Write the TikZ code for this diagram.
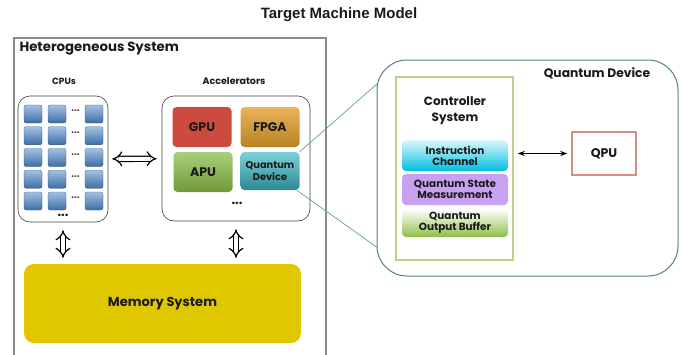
\documentclass[tikz,border=0pt]{standalone}
\usepackage{fontspec}
\setmainfont{Poppins}
\newfontfamily\titlefont{Liberation Sans}
\usetikzlibrary{arrows.meta}

\definecolor{txt}{HTML}{1A1A1A}
\definecolor{frame}{HTML}{8A8A8A}
\definecolor{gpured}{HTML}{CC4B3E}
\definecolor{fpgatop}{HTML}{EBB35A}
\definecolor{fpgabot}{HTML}{B98224}
\definecolor{aputop}{HTML}{A9CF79}
\definecolor{apubot}{HTML}{6E9A3A}
\definecolor{qdtop}{HTML}{7ED0D8}
\definecolor{qdbot}{HTML}{2B8A95}
\definecolor{coretop}{HTML}{A3C1E3}
\definecolor{corebot}{HTML}{3D6DA6}
\definecolor{memyellow}{HTML}{E0C800}
\definecolor{panelline}{HTML}{4F8283}
\definecolor{zoomline}{HTML}{5E9FA3}
\definecolor{ctrlgreen}{HTML}{B9D38F}
\definecolor{instop}{HTML}{DDF8FD}
\definecolor{insbot}{HTML}{00BEDF}
\definecolor{qsmpurple}{HTML}{C9A1F2}
\definecolor{qobbot}{HTML}{8DBF45}
\definecolor{qpuline}{HTML}{D88C86}

\begin{document}
\begin{tikzpicture}[x=1pt, y=-1pt,
  every node/.style={text=txt, font=\bfseries},
  group/.style={draw=black!75, line width=0.6pt, rounded corners=12pt},
  core/.style={minimum size=18pt, inner sep=0pt, rounded corners=2pt,
    draw=corebot!80!black, line width=0.3pt, top color=coretop, bottom color=corebot},
  tile/.style={minimum width=59pt, minimum height=40pt, inner sep=0pt, rounded corners=4pt},
  ctrlitem/.style={minimum width=106pt, minimum height=31pt, inner sep=0pt, rounded corners=4pt,
    align=center, font=\bfseries\fontsize{10.4}{11}\selectfont},
  wide/.style={double, double distance=4pt, line width=1.2pt, {Implies}-{Implies}},
  dots/.style={font=\bfseries\fontsize{10}{10}\selectfont, inner sep=0pt}]

  \useasboundingbox (0,0) rectangle (681,354);
  \clip (0,0) rectangle (681,354);

  % title
  \node (title) at (339,15) {\titlefont\bfseries\fontsize{15}{17}\selectfont Target Machine Model};

  % heterogeneous system
  \node[draw=frame, line width=1.6pt, minimum width=312pt, minimum height=340pt,
    anchor=north west] (hetero) at (13,37) {};
  \node[anchor=west, font=\bfseries\fontsize{13.3}{15}\selectfont] (heterolabel) at (16,49) {Heterogeneous System};

  \node[font=\bfseries\fontsize{9}{10}\selectfont] (cpulabel) at (64,81) {CPUs};
  \node[font=\bfseries\fontsize{9.5}{10}\selectfont] (acclabel) at (234,81) {Accelerators};

  \node[group, minimum width=90pt, minimum height=126pt] (cpus) at (63,159) {};
  \foreach \r in {0,...,4} {
    \node[core] (core-\r-1) at (33,114+21.75*\r) {};
    \node[core] (core-\r-2) at (57,114+21.75*\r) {};
    \node[dots, text=black!70] (core-\r-d) at (75.5,111+21.75*\r) {...};
    \node[core] (core-\r-3) at (94,114+21.75*\r) {};
  }
  \node[dots, font=\bfseries\fontsize{13}{13}\selectfont] (cpudots) at (63,215) {...};

  \node[group, minimum width=148pt, minimum height=125pt] (accel) at (236,158.5) {};
  \node[tile, fill=gpured, font=\bfseries\fontsize{12.5}{14}\selectfont] (gpu) at (202,127) {GPU};
  \node[tile, top color=fpgatop, bottom color=fpgabot, font=\bfseries\fontsize{12.5}{14}\selectfont] (fpga) at (270,127) {FPGA};
  \node[tile, top color=aputop, bottom color=apubot, font=\bfseries\fontsize{12.5}{14}\selectfont] (apu) at (203,172) {APU};
  \node[tile, minimum height=38pt, top color=qdtop, bottom color=qdbot, align=center,
    font=\bfseries\fontsize{9.8}{11.5}\selectfont] (qdev) at (270,171) {Quantum\\Device};
  \node[dots, font=\bfseries\fontsize{13}{13}\selectfont] (accdots) at (237,203) {...};

  \node[fill=memyellow, rounded corners=10pt, minimum width=277pt, minimum height=79pt,
    font=\bfseries\fontsize{13}{15}\selectfont] (memory) at (162.5,303.5) {Memory System};

  \draw[wide, shorten <=4pt, shorten >=5pt] (cpus) -- (accel);
  \draw[wide, shorten <=8pt, shorten >=6pt] (cpus.south) -- (cpus.south |- memory.north);
  \draw[wide, shorten <=8pt, shorten >=6pt] (accel.south) -- (accel.south |- memory.north);

  % quantum device detail
  \node[draw=panelline, line width=1pt, rounded corners=30pt, minimum width=301pt,
    minimum height=216pt] (qpanel) at (527.5,168) {};
  \node[font=\bfseries\fontsize{12.3}{14}\selectfont] (qpanellabel) at (597,73) {Quantum Device};

  \coordinate (zoomtop) at (378,83);
  \coordinate (zoombot) at (378,248);
  \draw[zoomline, line width=0.7pt] (qdev.north east) -- (zoomtop);
  \draw[zoomline, line width=0.7pt] ([xshift=-3pt]qdev.south east) -- (zoombot);

  \node[draw=ctrlgreen, line width=1.6pt, minimum width=117pt, minimum height=183pt] (ctrl) at (454.5,168.5) {};
  \node[align=center, font=\bfseries\fontsize{12}{16}\selectfont] (ctrllabel) at (455,111) {Controller\\System};
  \node[ctrlitem, top color=instop, bottom color=insbot] (instr) at (455,155.5) {Instruction\\Channel};
  \node[ctrlitem, fill=qsmpurple] (qsm) at (455,189.5) {Quantum State\\Measurement};
  \node[ctrlitem, minimum height=28pt, top color=white, bottom color=qobbot] (qob) at (455,223) {Quantum\\Output Buffer};

  \node[draw=qpuline, line width=1.6pt, minimum width=64pt, minimum height=43pt,
    font=\bfseries\fontsize{12.5}{14}\selectfont] (qpu) at (604,153.5) {QPU};

  \draw[line width=1.4pt, {Stealth[length=7pt]}-{Stealth[length=7pt]}, shorten <=4pt, shorten >=4pt]
    (ctrl.east |- qpu.west) -- (qpu.west);
\end{tikzpicture}
\end{document}
